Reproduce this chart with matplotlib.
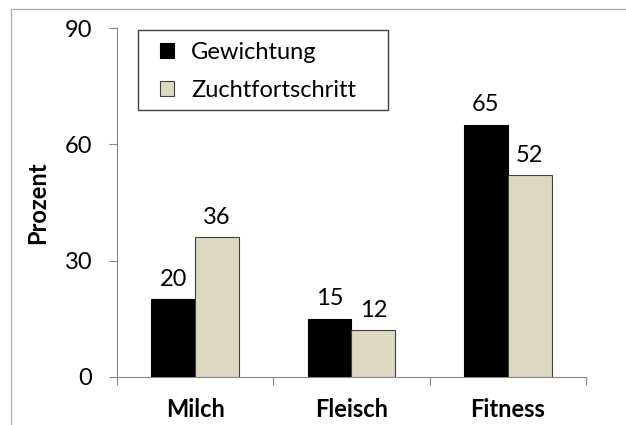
import matplotlib

matplotlib.use("Agg")
import matplotlib.pyplot as plt
import numpy as np
from matplotlib.patches import Rectangle

categories = ["Milch", "Fleisch", "Fitness"]
gewichtung = [20, 15, 65]
zuchtfortschritt = [36, 12, 52]
series_names = ["Gewichtung", "Zuchtfortschritt"]
yticks = [0, 30, 60, 90]

plt.rcParams["font.family"] = ["Lato", "DejaVu Sans"]
FS = 17

fig = plt.figure(figsize=(6.26, 4.25), dpi=100)
ax = fig.add_axes([0.187, 0.113, 0.749, 0.821])

# thin frame around the whole chart area
fig.patches.append(Rectangle((11 / 626, -0.05), 1.1, 1 - 9 / 425 + 0.05,
                             transform=fig.transFigure, fill=False,
                             edgecolor="#b0b0b0", linewidth=1.0))

x = np.arange(len(categories))
w = 0.28
b1 = ax.bar(x - w / 2, gewichtung, w, color="black", edgecolor="black",
            linewidth=0.8, label=series_names[0])
b2 = ax.bar(x + w / 2, zuchtfortschritt, w, color="#ddd8c1", edgecolor="#404040",
            linewidth=0.8, label=series_names[1])

for bars, vals in ((b1, gewichtung), (b2, zuchtfortschritt)):
    for r, v in zip(bars, vals):
        ax.annotate(str(v), (r.get_x() + r.get_width() / 2, v),
                    xytext=(0, 7), textcoords="offset points",
                    ha="center", va="bottom", fontsize=FS)

ax.set_xlim(-0.5, 2.5)
ax.set_ylim(0, 90)
ax.set_yticks(yticks)
ax.set_yticklabels([str(t) for t in yticks], fontsize=FS)
ax.set_xticks([-0.5, 0.5, 1.5, 2.5])
ax.set_xticklabels([])
ax.set_xticks(x, minor=True)
ax.set_xticklabels(categories, minor=True, fontsize=FS, fontweight="bold")
ax.tick_params(axis="x", which="minor", length=0, pad=15)
ax.tick_params(axis="x", which="major", length=6, color="#888888")
ax.tick_params(axis="y", length=6, color="#888888", pad=12)

for s in ("top", "right"):
    ax.spines[s].set_visible(False)
for s in ("left", "bottom"):
    ax.spines[s].set_color("#888888")

ax.set_ylabel("Prozent", fontsize=FS, fontweight="bold")
ax.yaxis.set_label_coords(-0.145, 0.5)

# legend entries without frame; the wider box of the original is drawn separately
ax.legend(loc="upper left", bbox_to_anchor=(0.092, 0.96), fontsize=FS,
          frameon=False, handlelength=0.6, handleheight=0.6,
          handletextpad=0.7, borderpad=0, labelspacing=0.72, borderaxespad=0)
ax.add_patch(Rectangle((0.045, 0.765), 0.533, 0.229, transform=ax.transAxes,
                       fill=False, edgecolor="#404040", linewidth=1.0,
                       clip_on=False, zorder=5))

fig.savefig("out.png", dpi=100)
